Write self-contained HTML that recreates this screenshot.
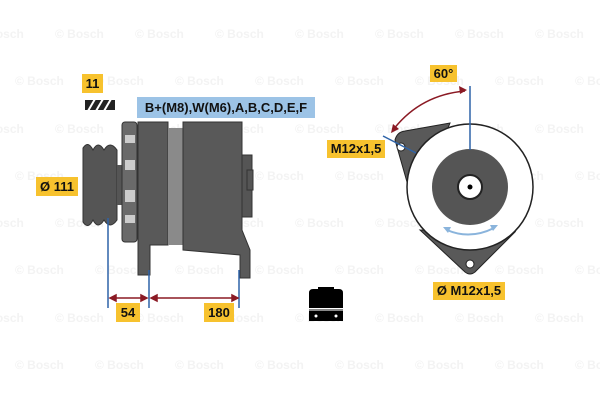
<!DOCTYPE html>
<html><head><meta charset="utf-8"><style>
body{margin:0;width:600px;height:400px;background:#fff;overflow:hidden;position:relative;font-family:"Liberation Sans",sans-serif}
.wm{position:absolute;font-size:12px;font-weight:bold;color:#f3f3f3;white-space:nowrap}
.lb{position:absolute;background:#f7c22e;font-weight:bold;font-size:13px;color:#111;text-align:center}
</style></head><body>
<div id="wm"></div>
<script>
var h='';var ys=[34,81,129,176,223,270,318,365];
for(var r=0;r<ys.length;r++){var off=(r%2==0)?-25:15;for(var x=off;x<600;x+=80){h+='<div class="wm" style="left:'+x+'px;top:'+(ys[r]-7)+'px">© Bosch</div>';}}
document.getElementById('wm').innerHTML=h;
</script>
<svg width="600" height="400" style="position:absolute;left:0;top:0">
<rect x="85" y="100" width="30" height="10" fill="#222"/>
<g stroke="#fff" stroke-width="2"><line x1="88" y1="111" x2="95" y2="99"/><line x1="96" y1="111" x2="103" y2="99"/><line x1="104" y1="111" x2="111" y2="99"/></g>
<path d="M83 148 Q88 140 93 150 Q98 140 104 150 Q110 140 117 150 L117 220 Q110 230 104 220 Q98 230 93 220 Q88 230 83 222 Z" fill="#555" stroke="#333"/>
<rect x="117" y="165" width="6" height="40" fill="#555"/>
<rect x="122" y="122" width="15" height="120" rx="3" fill="#6a6a6a" stroke="#333"/>
<g fill="#ccc"><rect x="125" y="135" width="10" height="8"/><rect x="125" y="160" width="10" height="10"/><rect x="125" y="190" width="10" height="12"/><rect x="125" y="215" width="10" height="8"/></g>
<path d="M138 122 L168 122 L168 245 L150 245 L150 275 L138 275 Z" fill="#595959" stroke="#333"/>
<rect x="168" y="128" width="15" height="117" fill="#8a8a8a"/>
<path d="M183 122 L242 122 L242 230 L250 250 L250 278 L240 278 L240 255 L183 250 Z" fill="#595959" stroke="#333"/>
<rect x="242" y="155" width="10" height="62" fill="#555" stroke="#333"/>
<rect x="247" y="170" width="6" height="20" fill="#555" stroke="#333"/>
<g stroke="#2e63a8" stroke-width="1.5"><line x1="108" y1="218" x2="108" y2="308"/><line x1="149" y1="270" x2="149" y2="308"/><line x1="239" y1="270" x2="239" y2="308"/></g>
<g stroke="#8b1a24" stroke-width="1.5" fill="#8b1a24"><line x1="111" y1="298" x2="146" y2="298"/><line x1="152" y1="298" x2="236" y2="298"/>
<path d="M110 298 l6 -3 v6z M147 298 l-6 -3 v6z M151 298 l6 -3 v6z M238 298 l-6 -3 v6z"/></g>
<path d="M309 308 L309 293 Q309 289 313 289 L318 289 L318 287 L334 287 L334 289 L339 289 Q343 289 343 293 L343 308 Z" fill="#000"/>
<rect x="309" y="309" width="34" height="2" fill="#888"/>
<rect x="309" y="311" width="34" height="10" fill="#000"/>
<circle cx="316" cy="316" r="1.5" fill="#fff"/><circle cx="336" cy="316" r="1.5" fill="#fff"/>
<path d="M395 140 Q397 132 405 131 L450 123 L415 210 Z" fill="#595959" stroke="#222"/>
<path d="M420 230 L465 272 Q470 276 475 272 L515 232 Z" fill="#595959" stroke="#222"/>
<circle cx="470" cy="187" r="63" fill="#fff" stroke="#222" stroke-width="1.5"/>
<circle cx="470" cy="187" r="38" fill="#555"/>
<circle cx="470" cy="187" r="12" fill="#fff" stroke="#222" stroke-width="2"/>
<circle cx="470" cy="187" r="2.5" fill="#000"/>
<circle cx="401" cy="147" r="4" fill="#fff" stroke="#222"/>
<circle cx="470" cy="264" r="4" fill="#fff" stroke="#222"/>
<line x1="470" y1="86" x2="470" y2="150" stroke="#2e63a8" stroke-width="1.5"/>
<line x1="383" y1="136" x2="416" y2="153" stroke="#2e63a8" stroke-width="1.5"/>
<path d="M465 91 Q420 95 393 130" fill="none" stroke="#8b1a24" stroke-width="1.5"/>
<path d="M467 90 l-8 -4 l1 8z M391 133 l2 -9 l6 5z" fill="#8b1a24"/>
<path d="M447 230 Q470 240 494 228" fill="none" stroke="#8ab4dc" stroke-width="2"/>
<path d="M443 227 l8 0 l-3 6z M498 225 l-8 0 l3 6z" fill="#8ab4dc"/>
</svg>
<div class="lb" style="left:82px;top:74px;width:21px;height:19px;line-height:19px">11</div>
<div class="lb" style="left:137px;top:97px;width:178px;height:21px;line-height:21px;background:#9cc3e6;font-size:13px">B+(M8),W(M6),A,B,C,D,E,F</div>
<div class="lb" style="left:36px;top:177px;width:42px;height:19px;line-height:19px">Ø 111</div>
<div class="lb" style="left:116px;top:303px;width:24px;height:19px;line-height:19px">54</div>
<div class="lb" style="left:204px;top:303px;width:30px;height:19px;line-height:19px">180</div>
<div class="lb" style="left:430px;top:65px;width:27px;height:17px;line-height:17px">60°</div>
<div class="lb" style="left:327px;top:140px;width:58px;height:18px;line-height:18px">M12x1,5</div>
<div class="lb" style="left:433px;top:282px;width:72px;height:18px;line-height:18px">Ø M12x1,5</div>
</body></html>
